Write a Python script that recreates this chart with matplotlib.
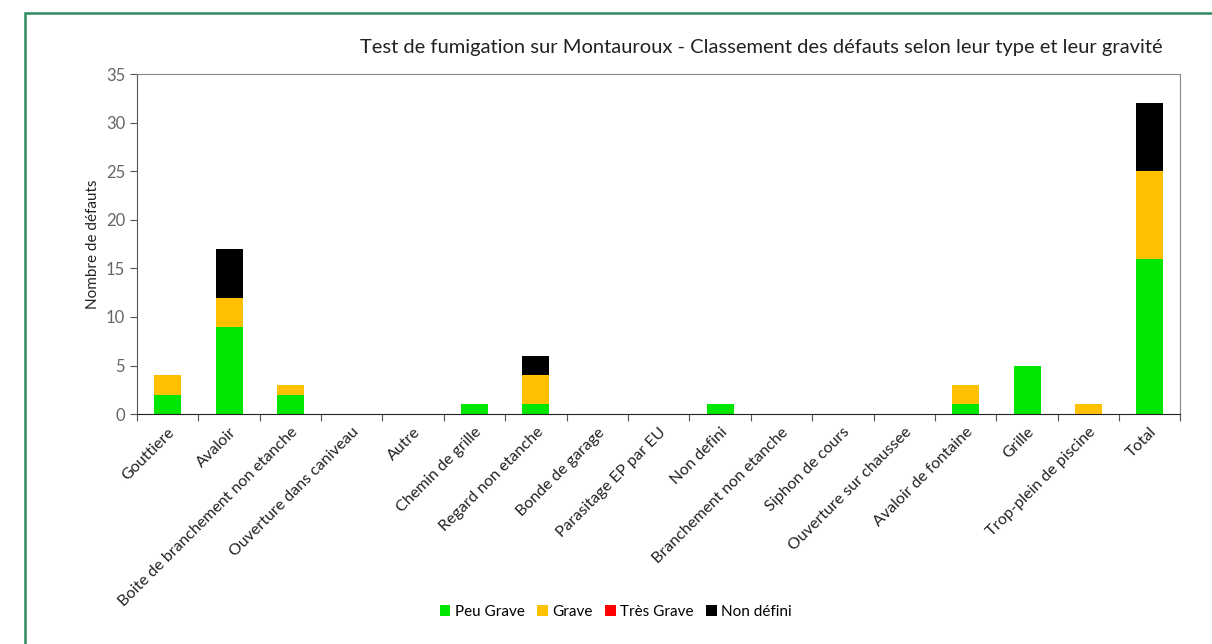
import numpy as np
import matplotlib.pyplot as plt
from matplotlib.patches import Rectangle

categories = ["Gouttiere", "Avaloir", "Boite de branchement non etanche",
              "Ouverture dans caniveau", "Autre", "Chemin de grille",
              "Regard non etanche", "Bonde de garage", "Parasitage EP par EU",
              "Non defini", "Branchement non etanche", "Siphon de cours",
              "Ouverture sur chaussee", "Avaloir de fontaine", "Grille",
              "Trop-plein de piscine", "Total"]

peu_grave = [2, 9, 2, 0, 0, 1, 1, 0, 0, 1, 0, 0, 0, 1, 5, 0, 16]
grave = [2, 3, 1, 0, 0, 0, 3, 0, 0, 0, 0, 0, 0, 2, 0, 1, 9]
tres_grave = [0] * 17
non_defini = [0, 5, 0, 0, 0, 0, 2, 0, 0, 0, 0, 0, 0, 0, 0, 0, 7]

series = [("Peu Grave", peu_grave, "#00e600"),
          ("Grave", grave, "#ffc000"),
          ("Très Grave", tres_grave, "#ff0000"),
          ("Non défini", non_defini, "#000000")]

plt.rcParams['font.family'] = ['Lato', 'DejaVu Sans']

fig = plt.figure(figsize=(12.12, 6.44), dpi=100)
ax = fig.add_axes([0.113, 0.357, 0.861, 0.528])

# green frame around the chart area
fig.patches.append(Rectangle((25 / 1212, -0.1), 1.2, 1 - 13 / 644 + 0.1,
                             transform=fig.transFigure, fill=False,
                             edgecolor="#2e8b62", linewidth=1.8))

x = np.arange(len(categories))
bottom = np.zeros(len(categories))
for name, vals, col in series:
    vals = np.array(vals, dtype=float)
    ax.bar(x, vals, 0.44, bottom=bottom, color=col, label=name)
    bottom += vals

ax.set_xlim(-0.5, len(categories) - 0.5)
ax.set_ylim(0, 35)
ax.set_yticks(range(0, 36, 5))
ax.set_xticks(np.arange(-0.5, len(categories), 1.0), minor=False)
ax.set_xticklabels([])
ax.set_xticks(x, minor=True)
ax.set_xticklabels(categories, minor=True, rotation=45, ha="right",
                   rotation_mode="anchor", fontsize=11.5, color="#222222")
ax.tick_params(axis="x", which="minor", length=0, pad=8)
ax.tick_params(axis="x", which="major", length=5, color="#555555")
ax.tick_params(axis="y", labelsize=12, colors="#555555", labelcolor="#666666",
               length=5)

for side in ["top", "right"]:
    ax.spines[side].set_color("#888888")
    ax.spines[side].set_linewidth(0.8)
ax.spines["left"].set_color("#555555")
ax.spines["bottom"].set_color("#222222")

ax.set_ylabel("Nombre de défauts", fontsize=11, color="#222222")

fig.text(0.959, 0.926, "Test de fumigation sur Montauroux - Classement des défauts selon leur type et leur gravité",
         ha="right", va="center", fontsize=14.5, color="#222222")

fig.legend(loc="center", bbox_to_anchor=(0.508, 0.05), ncol=4, frameon=False,
           fontsize=11, handlelength=0.7, handleheight=0.7,
           handletextpad=0.3, columnspacing=0.8)

fig.savefig("out.png", dpi=100)
